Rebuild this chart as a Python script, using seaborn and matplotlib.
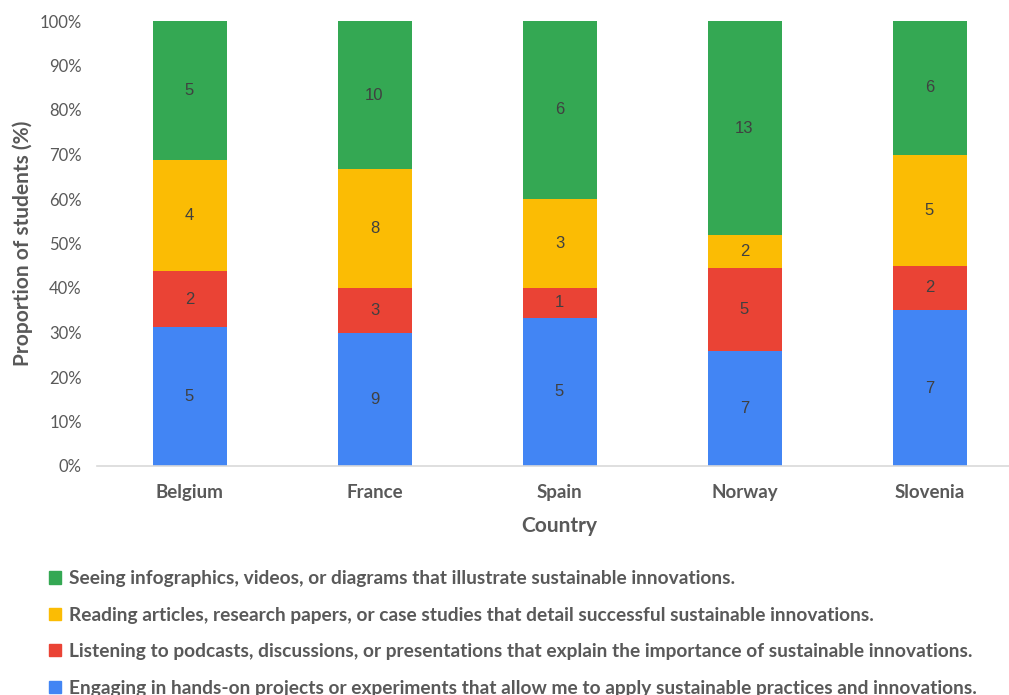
import matplotlib
matplotlib.use("Agg")
import matplotlib.pyplot as plt
import matplotlib.patches as mpatches
import numpy as np
import pandas as pd
import seaborn as sns

countries = ["Belgium", "France", "Spain", "Norway", "Slovenia"]
hands_on = [5, 9, 5, 7, 7]
listening = [2, 3, 1, 5, 2]
reading = [4, 8, 3, 2, 5]
seeing = [5, 10, 6, 13, 6]

series_names = [
    "Engaging in hands-on projects or experiments that allow me to apply sustainable practices and innovations.",
    "Listening to podcasts, discussions, or presentations that explain the importance of sustainable innovations.",
    "Reading articles, research papers, or case studies that detail successful sustainable innovations.",
    "Seeing infographics, videos, or diagrams that illustrate sustainable innovations.",
]
colors = ["#4285F4", "#EA4335", "#FBBC04", "#34A853"]

sns.set_theme(style="white")
plt.rcParams["font.family"] = ["Lato", "DejaVu Sans"]

counts = np.array([hands_on, listening, reading, seeing], dtype=float)
totals = counts.sum(axis=0)
shares = counts / totals * 100

fig = plt.figure(figsize=(10.09, 6.95), dpi=100)
ax = fig.add_axes([97 / 1009, 1 - 466 / 695, (1022 - 97) / 1009, (466 - 21) / 695])

bottom = np.zeros(len(countries))
for i, (name, col) in enumerate(zip(series_names, colors)):
    df = pd.DataFrame({"Country": countries, "share": shares[i]})
    sns.barplot(data=df, x="Country", y="share", color=col, width=0.4,
                bottom=bottom, ax=ax, saturation=1, linewidth=0)
    for j in range(len(countries)):
        ax.text(j, bottom[j] + shares[i][j] / 2, f"{int(counts[i][j])}",
                ha="center", va="center", fontsize=12, color="#404040",
                family=["Liberation Sans", "DejaVu Sans"])
    bottom = bottom + shares[i]

if ax.get_legend() is not None:
    ax.get_legend().remove()

ax.set_xlim(-0.5, 4.5)
ax.set_ylim(0, 100)
ax.set_yticks(np.arange(0, 101, 10))
ax.set_yticklabels([f"{v}%" for v in range(0, 101, 10)])
ax.tick_params(axis="y", labelsize=12, labelcolor="#595959", length=0, pad=11)
ax.tick_params(axis="x", labelsize=13.5, labelcolor="#595959", length=0, pad=13)
for lbl in ax.get_xticklabels():
    lbl.set_fontweight("bold")

for s in ["top", "right", "left"]:
    ax.spines[s].set_visible(False)
ax.spines["bottom"].set_color("#d9d9d9")
ax.spines["bottom"].set_linewidth(1.2)

ax.set_xlabel("Country", fontsize=15, fontweight="bold", color="#595959", labelpad=11)
ax.set_ylabel("Proportion of students (%)", fontsize=15, fontweight="bold",
              color="#595959", labelpad=5)

handles = [mpatches.Patch(color=c, label=n) for c, n in zip(colors, series_names)][::-1]
fig.legend(handles=handles, loc="upper left", bbox_to_anchor=(32 / 1009, 1 - 553 / 695),
           frameon=False, handlelength=0.6, handleheight=0.6,
           handletextpad=0.45, labelspacing=1.02, labelcolor="#595959",
           prop={"weight": "bold", "size": 13.75})

fig.savefig("out.png", dpi=100)
